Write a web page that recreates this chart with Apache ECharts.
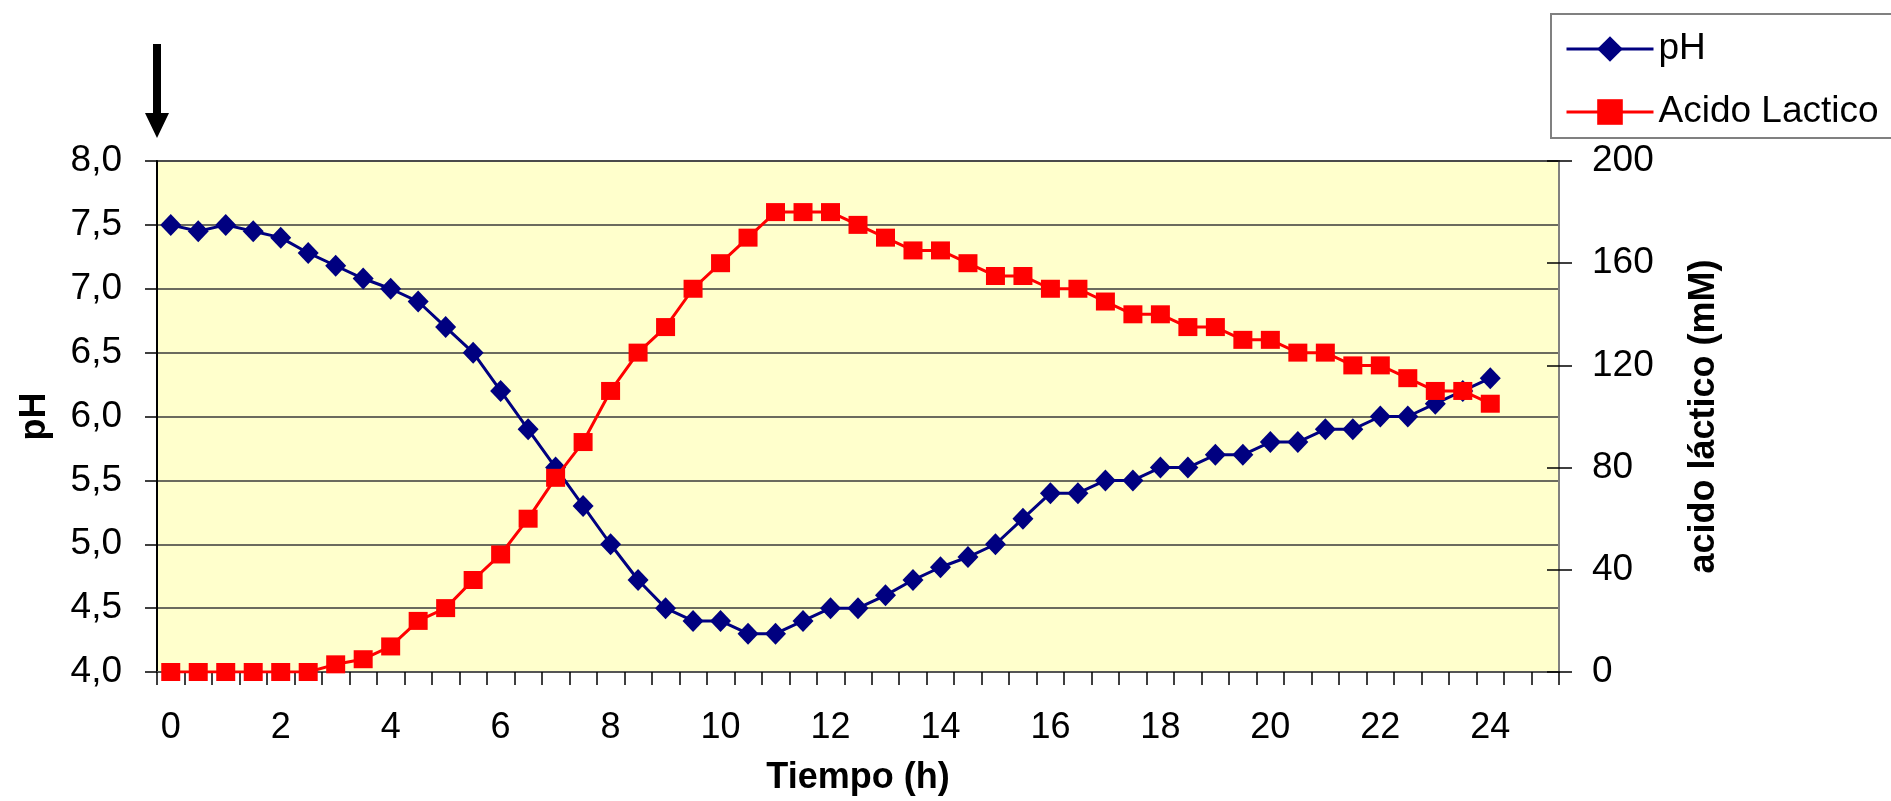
<!DOCTYPE html>
<html>
<head>
<meta charset="utf-8">
<script src="https://cdn.jsdelivr.net/npm/echarts@6/dist/echarts.min.js"></script>
<style>
html,body{margin:0;padding:0;background:#fff;}
#chart{width:1891px;height:801px;}
</style>
</head>
<body>
<div id="chart"></div>
<script>
// Categories: time in hours (category axis, 0.5 h steps)
const hours = ['0','0.5','1','1.5','2','2.5','3','3.5','4','4.5','5','5.5','6','6.5','7','7.5','8','8.5','9','9.5','10','10.5','11','11.5','12','12.5','13','13.5','14','14.5','15','15.5','16','16.5','17','17.5','18','18.5','19','19.5','20','20.5','21','21.5','22','22.5','23','23.5','24','24.5','25'];
const xTickLabels = ['0','2','4','6','8','10','12','14','16','18','20','22','24'];

// Series values
const pH = [7.5,7.45,7.5,7.45,7.4,7.28,7.18,7.08,7.0,6.9,6.7,6.5,6.2,5.9,5.6,5.3,5.0,4.72,4.5,4.4,4.4,4.3,4.3,4.4,4.5,4.5,4.6,4.72,4.82,4.9,5.0,5.2,5.4,5.4,5.5,5.5,5.6,5.6,5.7,5.7,5.8,5.8,5.9,5.9,6.0,6.0,6.1,6.2,6.3];
const acidoLactico = [0,0,0,0,0,0,3,5,10,20,25,36,46,60,76,90,110,125,135,150,160,170,180,180,180,175,170,165,165,160,155,155,150,150,145,140,140,135,135,130,130,125,125,120,120,115,110,110,105];

// Tick labels
const pHTickLabels = {'4':'4,0','4.5':'4,5','5':'5,0','5.5':'5,5','6':'6,0','6.5':'6,5','7':'7,0','7.5':'7,5','8':'8,0'};
const lacticTickLabels = ['0','40','80','120','160','200'];

const FONT = "'Liberation Sans', Arial, sans-serif";

const chart = echarts.init(document.getElementById('chart'), null, {renderer:'canvas'});
chart.setOption({
  animation: false,
  backgroundColor: '#ffffff',
  textStyle: {fontFamily: FONT},
  grid: {
    left: 157, right: 332, top: 161, bottom: 127,
    show: true, backgroundColor: '#FFFFCC', borderColor: '#808080', borderWidth: 2
  },
  legend: {
    orient: 'vertical',
    left: 1551, top: 14,
    padding: [13, 10, 4, 14],
    itemGap: 19,
    itemWidth: 87, itemHeight: 32,
    backgroundColor: 'transparent',
    borderWidth: 0,
    lineStyle: {width: 3},
    textStyle: {fontFamily: FONT, fontSize: 37, color: '#000', lineHeight: 44},
    data: ['pH', 'Acido Lactico']
  },
  xAxis: {
    type: 'category',
    data: hours,
    boundaryGap: true,
    name: 'Tiempo (h)',
    nameLocation: 'middle',
    nameGap: 88,
    nameTextStyle: {fontFamily: FONT, fontSize: 36, fontWeight: 'bold', color: '#000'},
    axisLine: {show: true, lineStyle: {color: '#555', width: 2}},
    axisTick: {show: true, interval: 0, alignWithLabel: false, length: 13, lineStyle: {color: '#000', width: 1.5}},
    axisLabel: {
      interval: 0, margin: 38, fontFamily: FONT, fontSize: 36, color: '#000',
      formatter: v => xTickLabels.includes(v) ? v : ''
    },
    splitLine: {show: false}
  },
  yAxis: [
    {
      type: 'value', min: 4, max: 8, interval: 0.5, position: 'left',
      name: 'pH', nameLocation: 'middle', nameGap: 104, nameRotate: 90,
      nameTextStyle: {fontFamily: FONT, fontSize: 36, fontWeight: 'bold', color: '#000'},
      axisLine: {show: true, lineStyle: {color: '#000', width: 2}},
      axisTick: {show: true, length: 12, lineStyle: {color: '#000', width: 1.5}},
      axisLabel: {margin: 35, fontFamily: FONT, fontSize: 37, color: '#000',
        formatter: v => pHTickLabels[String(v)] || ''},
      splitLine: {show: true, lineStyle: {color: '#3a3a3a', width: 1.5}}
    },
    {
      type: 'value', min: 0, max: 200, interval: 40, position: 'right',
      name: 'acido láctico (mM)', nameLocation: 'middle', nameGap: 127, nameRotate: 90,
      nameTextStyle: {fontFamily: FONT, fontSize: 36, fontWeight: 'bold', color: '#000'},
      axisLine: {show: true, lineStyle: {color: '#808080', width: 2}},
      axisTick: {show: true, length: 13, lineStyle: {color: '#000', width: 1.5}},
      axisLabel: {margin: 33, fontFamily: FONT, fontSize: 37, color: '#000',
        formatter: v => lacticTickLabels.includes(String(v)) ? String(v) : ''},
      splitLine: {show: false}
    },
    {
      // inner half of the crossing tick marks on the right axis
      type: 'value', min: 0, max: 200, interval: 40, position: 'right',
      axisLine: {show: false},
      axisTick: {show: true, inside: true, length: 12, lineStyle: {color: '#000', width: 1.5}},
      axisLabel: {show: false},
      splitLine: {show: false}
    }
  ],
  series: [
    {
      name: 'pH', type: 'line', yAxisIndex: 0, data: pH,
      symbol: 'diamond', symbolSize: [21, 22],
      lineStyle: {color: '#000080', width: 3},
      itemStyle: {color: '#000080'},
      z: 2
    },
    {
      name: 'Acido Lactico', type: 'line', yAxisIndex: 1, data: acidoLactico,
      symbol: 'rect', symbolSize: [19, 18],
      lineStyle: {color: '#FF0000', width: 3},
      itemStyle: {color: '#FF0000'},
      z: 3
    }
  ],
  graphic: [
    {
      type: 'polygon',
      shape: {points: [[153,44],[161,44],[161,113],[169,113],[157,138],[145,113],[153,113]]},
      style: {fill: '#000'}
    },
    {
      // legend frame (runs off the right edge of the picture, as in the original)
      type: 'rect', z: -1,
      shape: {x: 1551, y: 14, width: 400, height: 124},
      style: {fill: '#ffffff', stroke: '#808080', lineWidth: 2}
    }
  ]
});
</script>
</body>
</html>
